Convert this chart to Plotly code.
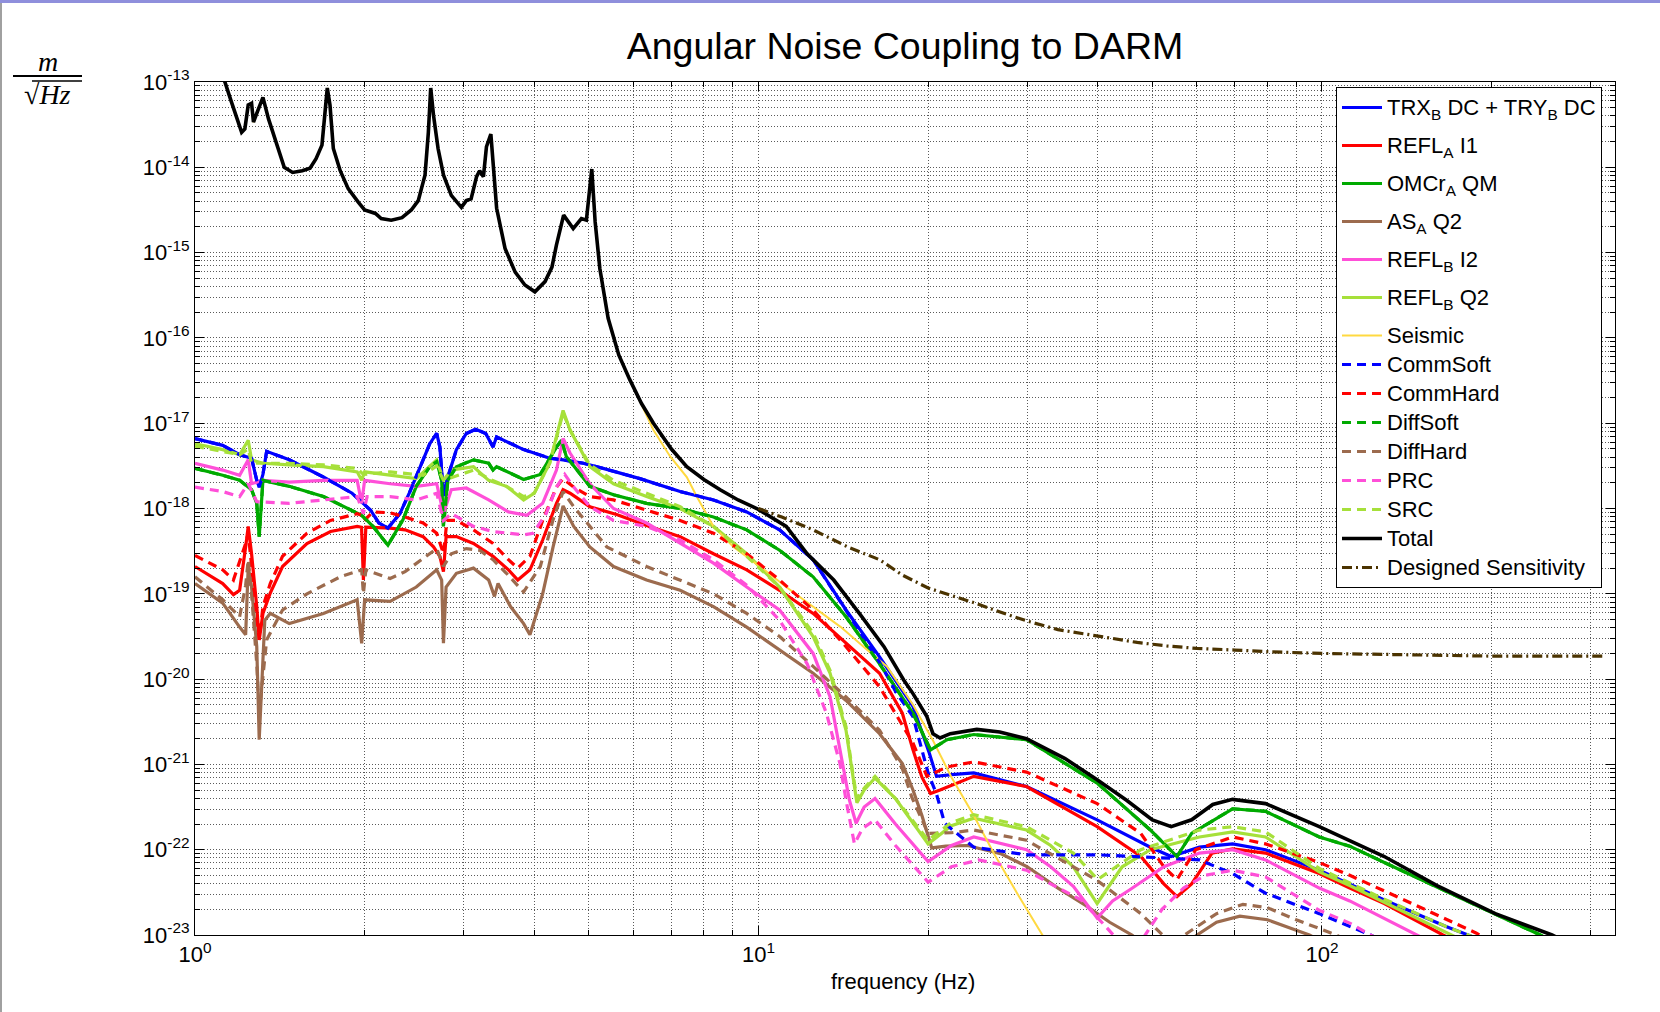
import plotly.graph_objects as go

# ---------------- data (frequency in Hz, amplitude in m/sqrt(Hz)) ----------------
total_f = [1.10, 1.13, 1.16, 1.21, 1.226, 1.243, 1.26, 1.27, 1.29, 1.32,
           1.35, 1.39, 1.44, 1.49, 1.55, 1.60, 1.64, 1.68, 1.70, 1.717,
           1.736, 1.76, 1.81, 1.87, 1.95, 2.0, 2.09, 2.14, 2.23, 2.33,
           2.42, 2.49, 2.56, 2.595, 2.62, 2.65, 2.70, 2.76, 2.85, 2.97,
           3.03, 3.09, 3.16, 3.20, 3.25, 3.29, 3.35, 3.38, 3.43, 3.55,
           3.70, 3.85, 4.01, 4.18, 4.30, 4.38, 4.51, 4.69, 4.85, 4.95,
           5.06, 5.13, 5.23, 5.41, 5.65, 5.91, 6.2, 6.51, 7.0, 7.46,
           8.0, 8.55, 9.2, 9.93, 11.2, 12.2, 13.6, 15.1, 16.7, 18.1,
           18.8, 19.9, 20.4, 21.0, 21.9, 24.4, 26.8, 29.9, 35.0, 39.9,
           45.0, 50.0, 54.0, 58.7, 64.0, 69.4, 79.4, 98.9, 112, 129,
           160, 203, 256, 300]
total_v = [1.58e-13, 1.0e-13, 5.89e-14, 2.57e-14, 2.82e-14, 5.37e-14, 5.62e-14, 3.39e-14, 4.47e-14, 6.61e-14,
           3.72e-14, 2.0e-14, 1.0e-14, 8.71e-15, 9.12e-15, 9.77e-15, 1.26e-14, 1.82e-14, 4.07e-14, 8.51e-14,
           5.37e-14, 1.66e-14, 9.12e-15, 5.62e-15, 3.89e-15, 3.16e-15, 2.88e-15, 2.51e-15, 2.40e-15, 2.57e-15,
           3.16e-15, 4.07e-15, 8.13e-15, 2.57e-14, 8.51e-14, 4.07e-14, 1.66e-14, 8.13e-15, 4.68e-15, 3.39e-15,
           4.07e-15, 4.27e-15, 7.76e-15, 9.12e-15, 7.76e-15, 1.74e-14, 2.45e-14, 1.05e-14, 3.31e-15, 1.12e-15,
           5.89e-16, 4.17e-16, 3.47e-16, 4.57e-16, 6.76e-16, 1.23e-15, 2.75e-15, 1.91e-15, 2.51e-15, 2.40e-15,
           9.55e-15, 2.29e-15, 6.46e-16, 1.70e-16, 6.31e-17, 3.24e-17, 1.70e-17, 1.0e-17, 5.01e-18, 3.09e-18,
           2.19e-18, 1.66e-18, 1.26e-18, 1.0e-18, 6.17e-19, 2.95e-19, 1.45e-19, 5.89e-20, 2.40e-20, 9.77e-21,
           6.76e-21, 3.63e-21, 2.29e-21, 2.04e-21, 2.29e-21, 2.57e-21, 2.40e-21, 2.0e-21, 1.17e-21, 6.61e-22,
           3.80e-22, 2.24e-22, 1.86e-22, 2.24e-22, 3.39e-22, 3.89e-22, 3.47e-22, 1.86e-22, 1.29e-22, 8.32e-23,
           3.80e-23, 1.78e-23, 1.0e-23, 6.03e-24]

seismic_f = [1.10, 1.13, 1.16, 1.21, 1.226, 1.243, 1.26, 1.27, 1.29, 1.32,
             1.35, 1.39, 1.44, 1.49, 1.55, 1.60, 1.64, 1.68, 1.70, 1.717,
             1.736, 1.76, 1.81, 1.87, 1.95, 2.0, 2.09, 2.14, 2.23, 2.33,
             2.42, 2.49, 2.56, 2.595, 2.62, 2.65, 2.70, 2.76, 2.85, 2.97,
             3.03, 3.09, 3.16, 3.20, 3.25, 3.29, 3.35, 3.38, 3.43, 3.55,
             3.70, 3.85, 4.01, 4.18, 4.30, 4.38, 4.51, 4.69, 4.85, 4.95,
             5.06, 5.13, 5.23, 5.41, 5.65, 5.91, 6.2, 6.51, 6.97, 7.46,
             7.77, 8.32, 9.03, 10.06, 11.2, 12.5, 14.0, 15.6, 16.9, 17.3,
             18.8, 20.4, 22.0, 24.1, 26.2, 29.0, 32.0, 34.0]
seismic_v = [1.58e-13, 1.0e-13, 5.89e-14, 2.57e-14, 2.82e-14, 5.37e-14, 5.62e-14, 3.39e-14, 4.47e-14, 6.61e-14,
             3.72e-14, 2.0e-14, 1.0e-14, 8.71e-15, 9.12e-15, 9.77e-15, 1.26e-14, 1.82e-14, 4.07e-14, 8.51e-14,
             5.37e-14, 1.66e-14, 9.12e-15, 5.62e-15, 3.89e-15, 3.16e-15, 2.88e-15, 2.51e-15, 2.40e-15, 2.57e-15,
             3.16e-15, 4.07e-15, 8.13e-15, 2.57e-14, 8.51e-14, 4.07e-14, 1.66e-14, 8.13e-15, 4.68e-15, 3.39e-15,
             4.07e-15, 4.27e-15, 7.76e-15, 9.12e-15, 7.76e-15, 1.74e-14, 2.45e-14, 1.05e-14, 3.31e-15, 1.12e-15,
             5.89e-16, 4.17e-16, 3.47e-16, 4.57e-16, 6.76e-16, 1.23e-15, 2.75e-15, 1.91e-15, 2.51e-15, 2.40e-15,
             9.55e-15, 2.29e-15, 6.46e-16, 1.70e-16, 6.31e-17, 3.24e-17, 1.66e-17, 8.32e-18, 4.07e-18, 2.34e-18,
             1.38e-18, 6.17e-19, 3.55e-19, 2.09e-19, 1.20e-19, 7.08e-20, 4.07e-20, 2.19e-20, 1.41e-20, 1.12e-20,
             5.01e-21, 1.91e-21, 7.08e-22, 2.51e-22, 8.91e-23, 2.82e-23, 9.77e-24, 5.01e-24]

trx_f = [1.0, 1.12, 1.2, 1.26, 1.287, 1.30, 1.32, 1.34, 1.47, 1.69,
         1.9, 2.05, 2.12, 2.2, 2.31, 2.4, 2.54, 2.61, 2.685, 2.72,
         2.76, 2.81, 2.91, 3.03, 3.15, 3.28, 3.38, 3.43, 3.83, 4.26,
         4.5, 4.89, 5.3, 6.16, 7.26, 8.32, 9.53, 10.9, 12.5, 14.3,
         16.4, 18.8, 20.1, 20.7, 22.0, 24.1, 29.9, 39.9, 49.6, 54.0,
         60.6, 69.4, 79.4, 98.9, 129, 166, 190]
trx_v = [6.61e-18, 5.50e-18, 4.27e-18, 3.89e-18, 2.14e-18, 1.78e-18, 2.51e-18, 4.68e-18, 3.72e-18, 2.34e-18,
         1.51e-18, 9.55e-19, 6.76e-19, 5.89e-19, 8.71e-19, 1.51e-18, 3.72e-18, 5.75e-18, 7.59e-18, 5.25e-18,
         1.41e-18, 2.34e-18, 4.90e-18, 7.59e-18, 8.51e-18, 7.59e-18, 5.25e-18, 6.92e-18, 4.90e-18, 3.89e-18,
         3.72e-18, 3.39e-18, 2.95e-18, 2.24e-18, 1.58e-18, 1.26e-18, 9.12e-19, 5.62e-19, 2.51e-19, 6.46e-20,
         1.82e-20, 4.79e-21, 1.35e-21, 7.24e-22, 7.59e-22, 7.94e-22, 5.50e-22, 2.24e-22, 1.07e-22, 8.32e-23,
         1.07e-22, 1.17e-22, 1.0e-22, 5.75e-23, 2.57e-23, 1.26e-23, 8.91e-24]

refla_f = [1.0, 1.12, 1.17, 1.2, 1.23, 1.243, 1.26, 1.287, 1.30, 1.32,
           1.36, 1.43, 1.58, 1.74, 1.94, 1.975, 1.99, 2.01, 2.22, 2.36,
           2.54, 2.65, 2.72, 2.76, 2.79, 2.91, 3.12, 3.38, 3.6, 3.74,
           3.93, 4.14, 4.38, 4.5, 4.63, 5.02, 5.6, 6.33, 7.26, 8.32,
           9.53, 10.9, 12.5, 14.3, 16.4, 18.0, 18.8, 19.5, 20.2, 21.0,
           24.1, 29.9, 39.9, 47.7, 52.4, 55.3, 58.7, 63.8, 69.4, 79.4,
           98.9, 112, 129, 164, 180]
refla_v = [2.09e-19, 1.32e-19, 9.77e-20, 1.10e-19, 3.55e-19, 6.17e-19, 2.95e-19, 7.08e-20, 2.88e-20, 5.89e-20,
           1.02e-19, 2.09e-19, 3.89e-19, 5.37e-19, 6.17e-19, 6.03e-19, 1.45e-19, 6.03e-19, 5.89e-19, 5.62e-19,
           4.68e-19, 3.55e-19, 2.75e-19, 1.82e-19, 4.68e-19, 4.68e-19, 3.89e-19, 2.75e-19, 1.91e-19, 1.45e-19,
           1.91e-19, 4.27e-19, 1.15e-18, 1.66e-18, 1.51e-18, 1.05e-18, 8.51e-19, 6.31e-19, 4.68e-19, 2.95e-19,
           1.91e-19, 1.10e-19, 5.89e-20, 2.63e-20, 1.17e-20, 3.98e-21, 1.48e-21, 7.08e-22, 4.57e-22, 5.01e-22,
           7.24e-22, 5.50e-22, 1.86e-22, 8.32e-23, 3.98e-23, 2.82e-23, 3.98e-23, 9.12e-23, 1.02e-22, 9.12e-23,
           5.25e-23, 3.55e-23, 2.34e-23, 1.0e-23, 7.41e-24]

omcr_f = [1.0, 1.12, 1.2, 1.26, 1.287, 1.30, 1.32, 1.47, 1.69, 1.9,
          1.976, 2.07, 2.2, 2.34, 2.47, 2.61, 2.685, 2.74, 2.76, 2.81,
          2.91, 3.12, 3.32, 3.38, 3.43, 3.83, 4.1, 4.38, 4.47, 4.56,
          5.02, 5.53, 6.33, 7.26, 8.32, 9.53, 10.9, 12.5, 14.3, 16.4,
          18.8, 20.2, 21.6, 24.1, 29.9, 39.9, 49.6, 55.3, 58.7, 69.4,
          79.4, 98.9, 112, 129, 203, 244, 270]
omcr_v = [2.95e-18, 2.45e-18, 2.14e-18, 1.66e-18, 1.15e-18, 4.68e-19, 2.14e-18, 1.82e-18, 1.38e-18, 9.55e-19,
          8.32e-19, 6.17e-19, 3.72e-19, 7.41e-19, 1.82e-18, 3.09e-18, 3.55e-18, 2.14e-18, 6.17e-19, 2.14e-18,
          3.09e-18, 3.72e-18, 3.39e-18, 2.82e-18, 3.09e-18, 2.19e-18, 2.51e-18, 5.25e-18, 6.31e-18, 4.07e-18,
          1.82e-18, 1.45e-18, 1.15e-18, 1.0e-18, 7.94e-19, 5.62e-19, 3.24e-19, 1.58e-19, 5.37e-20, 1.51e-20,
          3.98e-21, 1.48e-21, 1.95e-21, 2.24e-21, 1.95e-21, 6.03e-22, 1.70e-22, 8.32e-23, 1.55e-22, 3.02e-22,
          2.82e-22, 1.41e-22, 1.10e-22, 7.08e-23, 1.78e-23, 1.0e-23, 7.08e-24]

asa_f = [1.0, 1.12, 1.2, 1.23, 1.243, 1.26, 1.287, 1.30, 1.33, 1.36,
         1.47, 1.69, 1.94, 1.976, 2.0, 2.22, 2.47, 2.685, 2.74, 2.76,
         2.79, 2.91, 3.12, 3.32, 3.4, 3.45, 3.63, 3.83, 3.93, 4.14,
         4.32, 4.5, 4.7, 5.02, 5.53, 6.33, 7.26, 8.32, 9.53, 10.9,
         12.5, 14.3, 16.4, 18.0, 18.8, 19.5, 20.3, 21.5, 23.5, 27,
         30, 34, 38, 42, 46, 50, 55, 60, 65, 71.5,
         80, 88, 95, 105]
asa_v = [1.32e-19, 7.76e-20, 4.07e-20, 3.31e-20, 2.09e-19, 1.20e-19, 2.40e-20, 1.95e-21, 4.90e-20, 5.89e-20,
         4.47e-20, 5.89e-20, 8.51e-20, 2.63e-20, 8.51e-20, 8.13e-20, 1.20e-19, 1.91e-19, 1.45e-19, 2.63e-20,
         1.20e-19, 1.74e-19, 2.0e-19, 1.45e-19, 9.33e-20, 1.32e-19, 7.08e-20, 4.47e-20, 3.31e-20, 1.0e-19,
         3.55e-19, 1.07e-18, 6.17e-19, 3.55e-19, 2.09e-19, 1.45e-19, 1.10e-19, 7.08e-20, 4.07e-20, 2.19e-20,
         1.17e-20, 5.62e-21, 2.29e-21, 1.02e-21, 5.01e-22, 2.51e-22, 1.05e-22, 1.10e-22, 1.12e-22, 8.91e-23,
         6.31e-23, 3.55e-23, 2.24e-23, 1.41e-23, 1.0e-23, 6.31e-24, 6.31e-24, 1.0e-23, 1.41e-23, 1.66e-23,
         1.51e-23, 1.20e-23, 1.0e-23, 7.08e-24]

reflbi_f = [1.0, 1.12, 1.2, 1.243, 1.26, 1.32, 1.47, 1.69, 1.94, 1.976,
            2.0, 2.22, 2.47, 2.685, 2.76, 2.85, 3.03, 3.32, 3.6, 3.88,
            4.14, 4.38, 4.5, 4.63, 5.02, 5.53, 6.33, 7.26, 8.32, 9.53,
            10.9, 12.5, 13.4, 14.1, 14.5, 14.9, 15.4, 16.1, 17.5, 20.0,
            22, 24.1, 29.9, 33, 36.2, 39.9, 42.5, 45.6, 52.4, 60.6,
            69.4, 79.4, 98.9, 112, 147, 160]
reflbi_v = [3.39e-18, 2.82e-18, 2.45e-18, 3.72e-18, 1.95e-18, 2.14e-18, 2.04e-18, 2.14e-18, 2.14e-18, 1.15e-18,
            2.14e-18, 1.95e-18, 1.82e-18, 1.95e-18, 8.71e-19, 1.66e-18, 1.74e-18, 1.26e-18, 9.12e-19, 8.32e-19,
            1.15e-18, 2.82e-18, 6.61e-18, 4.47e-18, 1.95e-18, 1.0e-18, 6.76e-19, 3.89e-19, 2.29e-19, 1.20e-19,
            6.46e-20, 2.0e-20, 6.17e-21, 1.02e-21, 3.80e-22, 2.04e-22, 3.16e-22, 3.98e-22, 2.0e-22, 7.24e-23,
            1.12e-22, 1.41e-22, 1.0e-22, 6.31e-23, 3.72e-23, 1.58e-23, 2.51e-23, 3.39e-23, 6.31e-23, 9.12e-23,
            1.0e-22, 7.59e-23, 3.55e-23, 2.51e-23, 1.0e-23, 7.59e-24]

reflbq_f = [1.0, 1.12, 1.2, 1.243, 1.26, 1.32, 1.47, 1.69, 1.94, 1.976,
            2.0, 2.22, 2.47, 2.685, 2.76, 2.85, 3.12, 3.32, 3.57, 3.83,
            4.0, 4.26, 4.44, 4.5, 4.63, 5.02, 5.53, 6.33, 7.26, 8.32,
            9.53, 10.9, 12.5, 13.4, 14.3, 14.7, 14.95, 15.4, 16.1, 17.5,
            20.0, 22, 24.1, 29.9, 33, 36.2, 39.9, 44.2, 49.6, 60.6,
            69.4, 79.4, 98.9, 112, 129, 171, 185]
reflbq_v = [5.75e-18, 4.90e-18, 4.27e-18, 6.31e-18, 3.72e-18, 3.39e-18, 3.24e-18, 3.09e-18, 2.69e-18, 2.14e-18,
            2.69e-18, 2.45e-18, 2.24e-18, 3.72e-18, 2.14e-18, 2.82e-18, 3.09e-18, 2.14e-18, 1.82e-18, 1.26e-18,
            1.51e-18, 3.39e-18, 1.0e-17, 1.41e-17, 8.32e-18, 3.09e-18, 1.95e-18, 1.38e-18, 1.0e-18, 6.17e-19,
            2.95e-19, 1.20e-19, 3.16e-20, 1.17e-20, 2.51e-21, 7.08e-22, 3.55e-22, 5.01e-22, 6.92e-22, 3.98e-22,
            1.17e-22, 1.91e-22, 2.34e-22, 1.70e-22, 1.12e-22, 6.31e-23, 2.34e-23, 6.31e-23, 1.0e-22, 1.41e-22,
            1.62e-22, 1.41e-22, 5.50e-23, 3.80e-23, 2.40e-23, 9.55e-24, 7.59e-24]

commsoft_f = [1.0, 1.12, 1.2, 1.26, 1.287, 1.30, 1.32, 1.34, 1.47, 1.69,
              1.9, 2.05, 2.12, 2.2, 2.31, 2.4, 2.54, 2.61, 2.685, 2.72,
              2.76, 2.81, 2.91, 3.03, 3.15, 3.28, 3.38, 3.43, 3.83, 4.26,
              4.5, 4.89, 5.3, 6.16, 7.26, 8.32, 9.53, 10.9, 12.5, 14.3,
              16.4, 17.6, 18.8, 20.0, 20.7, 21.4, 24.1, 29.9, 39.9, 54.0,
              60.6, 69.4, 79.4, 98.9, 122, 135]
commsoft_v = [6.61e-18, 5.50e-18, 4.27e-18, 3.89e-18, 2.14e-18, 1.78e-18, 2.51e-18, 4.68e-18, 3.72e-18, 2.34e-18,
              1.51e-18, 9.55e-19, 6.76e-19, 5.89e-19, 8.71e-19, 1.51e-18, 3.72e-18, 5.75e-18, 7.59e-18, 5.25e-18,
              1.41e-18, 2.34e-18, 4.90e-18, 7.59e-18, 8.51e-18, 7.59e-18, 5.25e-18, 6.92e-18, 4.90e-18, 3.89e-18,
              3.72e-18, 3.39e-18, 2.95e-18, 2.24e-18, 1.58e-18, 1.26e-18, 9.12e-19, 5.62e-19, 2.51e-19, 6.46e-20,
              1.58e-20, 6.76e-21, 3.63e-21, 7.94e-22, 4.47e-22, 2.04e-22, 1.07e-22, 8.71e-23, 8.71e-23, 7.94e-23,
              7.59e-23, 5.25e-23, 3.09e-23, 1.78e-23, 1.0e-23, 7.08e-24]

commhard_f = [1.0, 1.12, 1.17, 1.23, 1.243, 1.26, 1.287, 1.30, 1.32, 1.36,
              1.43, 1.58, 1.74, 1.94, 1.975, 1.99, 2.07, 2.22, 2.36, 2.54,
              2.685, 2.76, 2.8, 2.91, 3.12, 3.38, 3.6, 3.74, 3.93, 4.14,
              4.38, 4.5, 4.7, 5.02, 5.53, 6.33, 7.26, 8.32, 9.53, 10.9,
              12.5, 14.3, 16.4, 18.8, 19.9, 21.6, 24.1, 29.9, 39.9, 47.7,
              52.4, 55.3, 59.7, 69.4, 79.4, 98.9, 112, 150, 188, 200]
commhard_v = [2.82e-19, 1.91e-19, 1.45e-19, 3.89e-19, 5.13e-19, 2.09e-19, 5.89e-20, 2.88e-20, 7.08e-20, 1.32e-19,
              2.75e-19, 5.13e-19, 7.24e-19, 8.71e-19, 8.32e-19, 7.08e-19, 9.12e-19, 8.91e-19, 7.94e-19, 6.76e-19,
              5.13e-19, 2.95e-19, 7.24e-19, 7.24e-19, 5.62e-19, 3.89e-19, 2.51e-19, 2.0e-19, 2.75e-19, 7.24e-19,
              1.78e-18, 2.24e-18, 1.78e-18, 1.38e-18, 1.26e-18, 9.55e-19, 7.24e-19, 5.13e-19, 2.95e-19, 1.45e-19,
              6.46e-20, 2.40e-20, 8.13e-21, 1.78e-21, 7.24e-22, 9.33e-22, 1.07e-21, 8.13e-22, 3.47e-22, 1.55e-22,
              6.31e-23, 4.47e-23, 1.0e-22, 1.41e-22, 1.17e-22, 7.08e-23, 5.01e-23, 2.09e-23, 1.05e-23, 8.32e-24]

diffsoft_f = [1.0, 1.12, 1.2, 1.26, 1.287, 1.30, 1.32, 1.47, 1.69, 1.9,
              1.976, 2.07, 2.2, 2.34, 2.47, 2.61, 2.685, 2.74, 2.76, 2.81,
              2.91, 3.12, 3.32, 3.38, 3.43, 3.83, 4.1, 4.38, 4.47, 4.56,
              5.02, 5.53, 6.33, 7.26, 8.32, 9.53, 10.9, 12.5, 14.3, 16.4,
              18.8, 20.2, 21.6, 24.1, 29.9, 39.9, 49.6, 55.3, 58.7, 69.4,
              79.4, 98.9, 112, 129, 203, 244, 270]
diffsoft_v = [2.95e-18, 2.45e-18, 2.14e-18, 1.66e-18, 1.15e-18, 4.68e-19, 2.14e-18, 1.82e-18, 1.38e-18, 9.55e-19,
              8.32e-19, 6.17e-19, 3.72e-19, 7.41e-19, 1.82e-18, 3.09e-18, 3.55e-18, 2.14e-18, 6.17e-19, 2.14e-18,
              3.09e-18, 3.72e-18, 3.39e-18, 2.82e-18, 3.09e-18, 2.19e-18, 2.51e-18, 5.25e-18, 6.31e-18, 4.07e-18,
              1.82e-18, 1.45e-18, 1.15e-18, 1.0e-18, 7.94e-19, 5.62e-19, 3.24e-19, 1.58e-19, 5.37e-20, 1.51e-20,
              3.98e-21, 1.48e-21, 1.95e-21, 2.24e-21, 1.95e-21, 6.03e-22, 1.70e-22, 8.32e-23, 1.55e-22, 3.02e-22,
              2.82e-22, 1.41e-22, 1.10e-22, 7.08e-23, 1.78e-23, 1.0e-23, 7.08e-24]

diffhard_f = [1.0, 1.12, 1.2, 1.23, 1.243, 1.26, 1.287, 1.30, 1.34, 1.43,
              1.58, 1.81, 1.976, 1.99, 2.01, 2.22, 2.36, 2.54, 2.685, 2.76,
              2.85, 3.03, 3.2, 3.38, 3.57, 3.83, 4.1, 4.32, 4.5, 4.7,
              5.02, 5.38, 6.33, 7.26, 8.32, 9.53, 10.9, 12.5, 14.3, 16.4,
              18.0, 18.7, 20.0, 22, 24.1, 29.9, 39.9, 47.7, 52.2, 55,
              57, 65, 72.4, 80, 90, 106, 115]
diffhard_v = [1.58e-19, 8.51e-20, 5.37e-20, 1.26e-19, 2.51e-19, 1.0e-19, 1.51e-20, 3.98e-21, 2.88e-20, 6.46e-20,
              1.0e-19, 1.58e-19, 1.91e-19, 1.0e-19, 1.91e-19, 1.51e-19, 1.82e-19, 2.63e-19, 3.39e-19, 2.09e-19,
              2.95e-19, 3.39e-19, 3.24e-19, 2.51e-19, 1.74e-19, 1.05e-19, 2.09e-19, 7.41e-19, 1.58e-18, 1.05e-18,
              6.17e-19, 3.55e-19, 2.09e-19, 1.45e-19, 1.0e-19, 5.89e-20, 3.16e-20, 1.41e-20, 6.17e-21, 2.51e-21,
              8.91e-22, 4.17e-22, 1.55e-22, 1.58e-22, 1.70e-22, 1.29e-22, 4.37e-23, 1.78e-23, 1.0e-23, 7.08e-24,
              1.0e-23, 1.78e-23, 2.29e-23, 2.09e-23, 1.51e-23, 1.0e-23, 7.59e-24]

prc_f = [1.0, 1.12, 1.2, 1.243, 1.287, 1.47, 1.69, 1.94, 1.99, 2.02,
         2.22, 2.47, 2.685, 2.76, 2.85, 3.12, 3.38, 3.83, 3.98, 4.2,
         4.38, 4.53, 4.7, 5.02, 5.53, 6.33, 7.26, 8.32, 9.53, 10.9,
         12.2, 13.2, 13.95, 14.3, 14.8, 15.3, 16.1, 17.5, 20.0, 22,
         24.6, 29.9, 33, 37.4, 41.3, 44, 48, 52, 56.8, 62,
         69.4, 79.4, 98.9, 112, 122, 135]
prc_v = [1.78e-18, 1.58e-18, 1.38e-18, 1.95e-18, 1.20e-18, 1.15e-18, 1.26e-18, 1.38e-18, 8.71e-19, 1.38e-18,
         1.38e-18, 1.26e-18, 1.51e-18, 7.24e-19, 8.71e-19, 6.17e-19, 5.37e-19, 4.90e-19, 5.13e-19, 8.71e-19,
         1.78e-18, 2.51e-18, 1.78e-18, 1.05e-18, 7.24e-19, 6.17e-19, 4.27e-19, 2.51e-19, 1.26e-19, 4.90e-20,
         1.51e-20, 3.98e-21, 1.02e-21, 3.80e-22, 1.17e-22, 1.78e-22, 2.24e-22, 1.12e-22, 4.17e-23, 6.31e-23,
         7.59e-23, 5.75e-23, 3.98e-23, 2.57e-23, 1.26e-23, 7.94e-24, 8.91e-24, 2.0e-23, 3.55e-23, 5.01e-23,
         5.75e-23, 4.79e-23, 1.95e-23, 1.38e-23, 1.0e-23, 7.08e-24]

src_f = [1.0, 1.2, 1.243, 1.26, 1.47, 1.69, 1.94, 1.99, 2.22, 2.54,
         2.685, 2.76, 3.12, 3.32, 3.57, 3.83, 4.0, 4.26, 4.5, 4.63,
         5.02, 5.53, 6.33, 7.26, 8.32, 9.53, 10.9, 12.5, 13.4, 14.3,
         14.7, 14.95, 15.4, 16.1, 17.5, 20.0, 22, 24.1, 29.9, 36.2,
         40, 47.7, 60.6, 69.4, 79.4, 98.9, 112, 129, 166, 190]
src_v = [5.37e-18, 4.27e-18, 5.01e-18, 3.39e-18, 3.39e-18, 3.24e-18, 2.95e-18, 2.51e-18, 2.69e-18, 2.45e-18,
         3.16e-18, 2.14e-18, 2.82e-18, 2.24e-18, 1.82e-18, 1.38e-18, 1.51e-18, 3.39e-18, 1.32e-17, 8.32e-18,
         3.24e-18, 2.14e-18, 1.51e-18, 1.05e-18, 6.17e-19, 2.75e-19, 1.20e-19, 3.47e-20, 1.26e-20, 2.75e-21,
         7.94e-22, 3.98e-22, 5.25e-22, 7.24e-22, 3.98e-22, 1.29e-22, 2.09e-22, 2.57e-22, 1.86e-22, 9.12e-23,
         4.47e-23, 1.0e-22, 1.70e-22, 1.86e-22, 1.62e-22, 6.03e-23, 4.07e-23, 2.63e-23, 1.26e-23, 8.91e-24]

designed_f = [10, 11, 12.5, 14.4, 16.4, 18, 20, 22, 24, 27,
              30, 34, 38, 42, 47, 53, 60, 70, 81, 100,
              125, 160, 200, 250, 318]
designed_v = [1.0e-18, 7.94e-19, 5.62e-19, 3.55e-19, 2.51e-19, 1.66e-19, 1.17e-19, 9.55e-20, 7.94e-20, 6.03e-20,
              4.79e-20, 3.80e-20, 3.39e-20, 3.02e-20, 2.69e-20, 2.45e-20, 2.29e-20, 2.19e-20, 2.09e-20, 2.0e-20,
              1.95e-20, 1.91e-20, 1.86e-20, 1.86e-20, 1.86e-20]

x_tick_vals = [1, 10, 100]
x_tick_text = ['10<sup>0</sup>', '10<sup>1</sup>', '10<sup>2</sup>']
y_tick_vals = [1e-23, 1e-22, 1e-21, 1e-20, 1e-19, 1e-18, 1e-17, 1e-16, 1e-15, 1e-14, 1e-13]
y_tick_text = ['10<sup>-23</sup>', '10<sup>-22</sup>', '10<sup>-21</sup>', '10<sup>-20</sup>',
               '10<sup>-19</sup>', '10<sup>-18</sup>', '10<sup>-17</sup>', '10<sup>-16</sup>',
               '10<sup>-15</sup>', '10<sup>-14</sup>', '10<sup>-13</sup>']
x_minor_vals = [2, 3, 4, 5, 6, 7, 8, 9, 20, 30, 40, 50, 60, 70, 80, 90, 200, 300]
y_minor_vals = [m * d for d in [1e-23, 1e-22, 1e-21, 1e-20, 1e-19, 1e-18, 1e-17, 1e-16, 1e-15, 1e-14]
                for m in [2, 3, 4, 5, 6, 7, 8, 9]]

# ---------------- styles ----------------
BLUE, RED, GREEN = '#0000ff', '#ff0000', '#00aa00'
BROWN, PINK, LGREEN = '#9c6b4e', '#ff4fd8', '#a6e03a'
YELLOW, BLACK, DKBROWN = '#ffd940', '#000000', '#4b3300'
DASH = '9px,6px'

series = [
    ('TRX<sub>B</sub> DC + TRY<sub>B</sub> DC', trx_f, trx_v, BLUE, 'solid', 3.2, 'g1'),
    ('REFL<sub>A</sub> I1', refla_f, refla_v, RED, 'solid', 3.2, 'g2'),
    ('OMCr<sub>A</sub> QM', omcr_f, omcr_v, GREEN, 'solid', 3.2, 'g3'),
    ('AS<sub>A</sub> Q2', asa_f, asa_v, BROWN, 'solid', 3.2, 'g4'),
    ('REFL<sub>B</sub> I2', reflbi_f, reflbi_v, PINK, 'solid', 3.2, 'g5'),
    ('REFL<sub>B</sub> Q2', reflbq_f, reflbq_v, LGREEN, 'solid', 3.2, 'g6'),
    ('Seismic', seismic_f, seismic_v, YELLOW, 'solid', 2, 'g7'),
    ('CommSoft', commsoft_f, commsoft_v, BLUE, DASH, 3.2, 'g7'),
    ('CommHard', commhard_f, commhard_v, RED, DASH, 3.2, 'g7'),
    ('DiffSoft', diffsoft_f, diffsoft_v, GREEN, DASH, 3.2, 'g7'),
    ('DiffHard', diffhard_f, diffhard_v, BROWN, DASH, 3.2, 'g7'),
    ('PRC', prc_f, prc_v, PINK, DASH, 3.2, 'g7'),
    ('SRC', src_f, src_v, LGREEN, DASH, 3.2, 'g7'),
    ('Total', total_f, total_v, BLACK, 'solid', 3.6, 'g7'),
    ('Designed Sensitivity', designed_f, designed_v, DKBROWN, '10px,4px,2px,4px', 3.2, 'g7'),
]

fig = go.Figure()
for name, fx, fy, color, dash, w, grp in series:
    fig.add_trace(go.Scatter(x=fx, y=fy, mode='lines', legendgroup=grp,
                             name='<span style="font-size:22px">' + name + '</span>',
                             line=dict(color=color, width=w, dash=dash)))

FONT = 'Liberation Sans, Arial, Helvetica, sans-serif'
GRID = dict(showgrid=True, gridcolor='#5a5a5a', gridwidth=1, griddash='1px,2px')

# plot area in pixels: x 195..1615, y 82..935
L, R, T, B = 195, 1615, 82, 935
W, H = 1660, 1012


def px(xp):
    return (xp - L) / (R - L)


def py(yp):
    return 1 - (yp - T) / (B - T)


fig.update_layout(
    width=W, height=H,
    margin=dict(l=L, r=W - R, t=T, b=H - B),
    paper_bgcolor='white', plot_bgcolor='white',
    font=dict(family=FONT, size=22, color='black'),
    title=dict(text='Angular Noise Coupling to DARM', x=0.5, xref='paper', xanchor='center',
               y=1 - 46 / H, yref='container', yanchor='middle',
               font=dict(family=FONT, size=37.5, color='black')),
    xaxis=dict(type='log', range=[0, 2.52], tickmode='array', tickvals=x_tick_vals, ticktext=x_tick_text,
               ticks='inside', ticklen=9, tickwidth=1, tickcolor='black',
               showline=True, linecolor='black', linewidth=1, mirror='allticks',
               tickfont=dict(family=FONT, size=22, color='black'), zeroline=False,
               minor=dict(tickmode='array', tickvals=x_minor_vals, ticks='inside', ticklen=5,
                          tickcolor='black', **GRID),
               **GRID),
    yaxis=dict(type='log', range=[-23, -13], tickmode='array', tickvals=y_tick_vals, ticktext=y_tick_text,
               ticks='inside', ticklen=9, tickwidth=1, tickcolor='black',
               showline=True, linecolor='black', linewidth=1, mirror='allticks',
               tickfont=dict(family=FONT, size=22, color='black'), zeroline=False,
               minor=dict(tickmode='array', tickvals=y_minor_vals, ticks='inside', ticklen=5,
                          tickcolor='black', **GRID),
               **GRID),
    legend=dict(x=px(1336), y=py(87), xanchor='left', yanchor='top',
                bgcolor='white', bordercolor='black', borderwidth=1,
                font=dict(family=FONT, size=20, color='black'),
                itemwidth=40, tracegroupgap=9, traceorder='grouped'),
    showlegend=True,
)

# x-axis label
fig.add_annotation(text='frequency (Hz)', x=px(903), y=py(982), xref='paper', yref='paper',
                   showarrow=False, xanchor='center', yanchor='middle',
                   font=dict(family=FONT, size=22, color='black'))

# y-axis unit label  m / sqrt(Hz)
SERIF = 'Liberation Serif, DejaVu Serif, serif'
fig.add_annotation(text='<i>m</i>', x=px(48), y=py(62), xref='paper', yref='paper',
                   showarrow=False, xanchor='center', yanchor='middle',
                   font=dict(family=SERIF, size=28, color='black'))
fig.add_annotation(text='√<i>Hz</i>', x=px(47), y=py(94), xref='paper', yref='paper',
                   showarrow=False, xanchor='center', yanchor='middle',
                   font=dict(family=SERIF, size=28, color='black'))
fig.add_shape(type='line', xref='paper', yref='paper', x0=px(13), x1=px(82), y0=py(76), y1=py(76),
              line=dict(color='black', width=2))
fig.add_shape(type='line', xref='paper', yref='paper', x0=px(32), x1=px(82), y0=py(81), y1=py(81),
              line=dict(color='black', width=1.5))

# window frame decorations
fig.add_shape(type='rect', xref='paper', yref='paper', x0=px(0), x1=px(W), y0=py(0), y1=py(3),
              fillcolor='#8f8fdc', line=dict(width=0), layer='above')
fig.add_shape(type='line', xref='paper', yref='paper', x0=px(1), x1=px(1), y0=py(3), y1=py(H),
              line=dict(color='#a0a0a0', width=2))

fig.write_html('out.html', include_plotlyjs=True, full_html=True,
               config={'displayModeBar': False, 'responsive': False})
